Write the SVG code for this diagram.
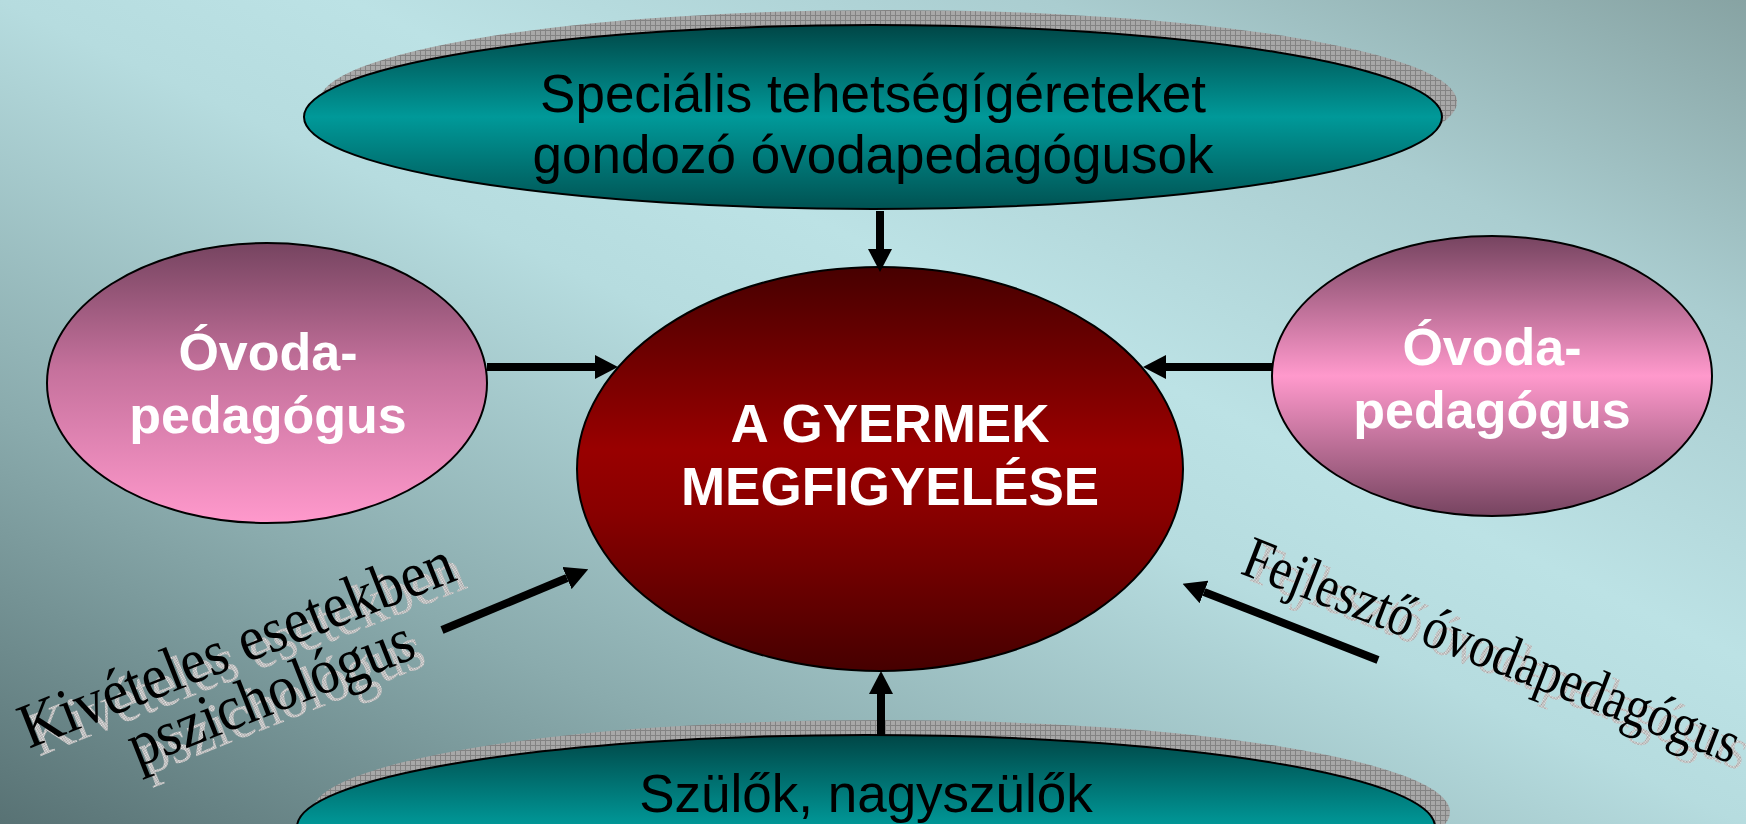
<svg xmlns="http://www.w3.org/2000/svg" width="1746" height="824" viewBox="0 0 1746 824">
<defs>
<linearGradient id="bg" x1="0" y1="1" x2="1" y2="0">
<stop offset="0" stop-color="#587274"/>
<stop offset="0.25" stop-color="#8aabad"/>
<stop offset="0.5" stop-color="#b6dcdf"/>
<stop offset="0.6" stop-color="#bce2e5"/>
<stop offset="0.8" stop-color="#aacdd0"/>
<stop offset="1" stop-color="#87a3a3"/>
</linearGradient>
<linearGradient id="teal" x1="0" y1="0" x2="0" y2="1">
<stop offset="0" stop-color="#004646"/>
<stop offset="0.5" stop-color="#009999"/>
<stop offset="1" stop-color="#005252"/>
</linearGradient>
<linearGradient id="red" x1="0" y1="0" x2="0" y2="1">
<stop offset="0" stop-color="#470000"/>
<stop offset="0.45" stop-color="#990000"/>
<stop offset="0.6" stop-color="#8a0000"/>
<stop offset="1" stop-color="#460000"/>
</linearGradient>
<linearGradient id="pinkL" x1="0" y1="0" x2="0" y2="1">
<stop offset="0" stop-color="#764460"/>
<stop offset="0.45" stop-color="#c5719c"/>
<stop offset="1" stop-color="#ff99cc"/>
</linearGradient>
<linearGradient id="pinkR" x1="0" y1="0" x2="0" y2="1">
<stop offset="0" stop-color="#764460"/>
<stop offset="0.5" stop-color="#ff99cc"/>
<stop offset="1" stop-color="#764460"/>
</linearGradient>
<pattern id="hatch" width="5" height="5" patternUnits="userSpaceOnUse">
<rect width="5" height="5" fill="#a8a8a8"/>
<path d="M0,0.5H5M0.5,0V5" stroke="#838383" stroke-width="1"/>
</pattern>
<pattern id="dots" width="2" height="2" patternUnits="userSpaceOnUse">
<rect width="2" height="2" fill="#9c9c9c"/>
<rect width="1" height="1" fill="#eeeeee"/>
<rect x="1" y="1" width="1" height="1" fill="#e4e4e4"/>
</pattern>
<marker id="ah" viewBox="0 0 23 24" refX="0" refY="12" markerWidth="23" markerHeight="24" markerUnits="userSpaceOnUse" orient="auto">
<path d="M0,0L23,12L0,24z" fill="#000"/>
</marker>
<style>
.sans{font-family:"Liberation Sans",Arial,sans-serif;}
.serif{font-family:"Liberation Serif","Times New Roman",serif;font-size:58px;}
.wb{fill:#fff;font-weight:bold;}
.node{stroke:#000;stroke-width:2;}
.conn line{stroke:#000;stroke-width:8;marker-end:url(#ah);}
</style>
</defs>
<rect width="1746" height="824" fill="url(#bg)"/>

<g id="node-top">
<ellipse cx="888" cy="102" rx="569" ry="92" fill="url(#hatch)"/>
<ellipse class="node" cx="873" cy="117" rx="569" ry="92" fill="url(#teal)"/>
<text class="sans" x="873" y="112" font-size="53" text-anchor="middle" fill="#000">Speciális tehetségígéreteket</text>
<text class="sans" x="873" y="173" font-size="53" text-anchor="middle" fill="#000">gondozó óvodapedagógusok</text>
</g>

<g id="node-bottom">
<ellipse cx="881" cy="812" rx="569" ry="92" fill="url(#hatch)"/>
<ellipse class="node" cx="866" cy="827" rx="569" ry="92" fill="url(#teal)"/>
<text class="sans" x="866" y="812" font-size="53" text-anchor="middle" fill="#000">Szülők, nagyszülők</text>
</g>

<g id="node-center">
<ellipse class="node" cx="880" cy="469" rx="303" ry="202" fill="url(#red)"/>
<text class="sans wb" x="890" y="442" font-size="53" text-anchor="middle">A GYERMEK</text>
<text class="sans wb" x="890" y="505" font-size="53" text-anchor="middle">MEGFIGYELÉSE</text>
</g>

<g id="node-left">
<ellipse class="node" cx="267" cy="383" rx="220" ry="140" fill="url(#pinkL)"/>
<text class="sans wb" x="268" y="370" font-size="52" text-anchor="middle">Óvoda-</text>
<text class="sans wb" x="268" y="433" font-size="52" text-anchor="middle">pedagógus</text>
</g>

<g id="node-right">
<ellipse class="node" cx="1492" cy="376" rx="220" ry="140" fill="url(#pinkR)"/>
<text class="sans wb" x="1492" y="365" font-size="52" text-anchor="middle">Óvoda-</text>
<text class="sans wb" x="1492" y="428" font-size="52" text-anchor="middle">pedagógus</text>
</g>

<g id="label-psych">
<g transform="translate(254,672) rotate(-21.5) scale(1,1.1)" fill="url(#dots)">
<text class="serif" x="0" y="0" text-anchor="middle">Kivételes esetekben</text>
<text class="serif" x="14" y="52" font-size="63" text-anchor="middle">pszichológus</text>
</g>
<g transform="translate(244,664) rotate(-21.5) scale(1,1.1)" fill="#000">
<text class="serif" x="0" y="0" text-anchor="middle">Kivételes esetekben</text>
<text class="serif" x="14" y="52" font-size="63" text-anchor="middle">pszichológus</text>
</g>
</g>

<g id="label-dev">
<g transform="translate(1248,580) rotate(21.2) scale(0.86,1.03)" fill="url(#dots)">
<text class="serif" x="0" y="0">Fejlesztő óvodapedagógus</text>
</g>
<g transform="translate(1239,573) rotate(21.2) scale(0.86,1.03)" fill="#000">
<text class="serif" x="0" y="0">Fejlesztő óvodapedagógus</text>
</g>
</g>

<g id="connectors" class="conn">
<line x1="880" y1="211" x2="880" y2="249"/>
<line x1="487" y1="367" x2="595" y2="367"/>
<line x1="1272" y1="367" x2="1166" y2="367"/>
<line x1="881" y1="736" x2="881" y2="694"/>
<line x1="442" y1="630" x2="567" y2="578"/>
<line x1="1378" y1="660" x2="1204" y2="592"/>
</g>
</svg>
